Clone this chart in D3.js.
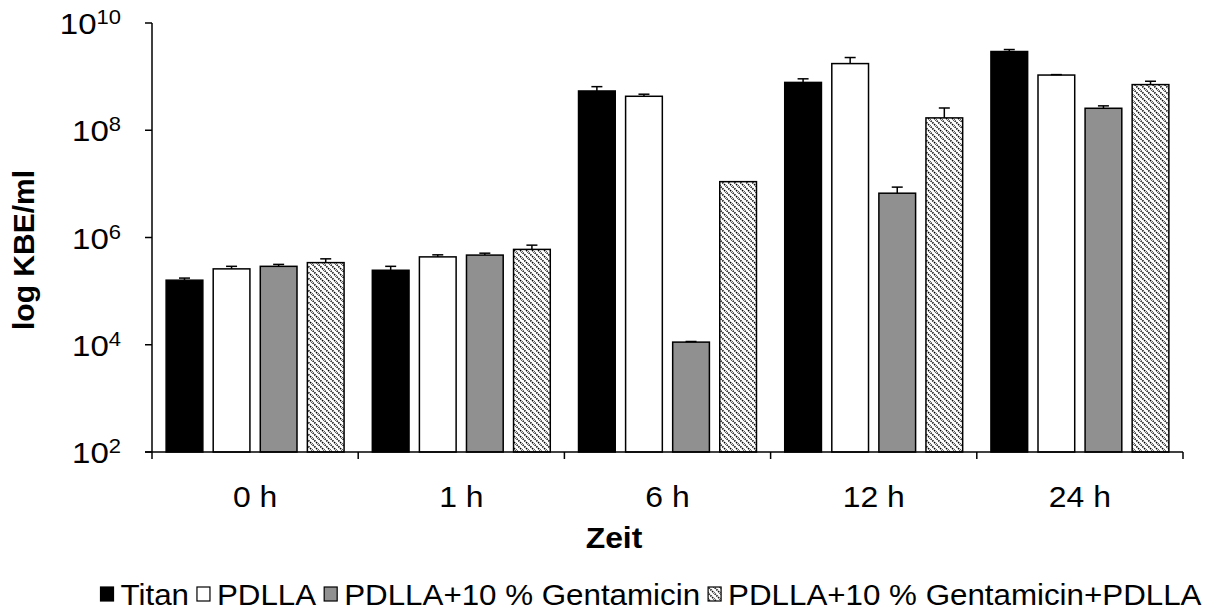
<!DOCTYPE html>
<html>
<head>
<meta charset="utf-8">
<script src="https://cdn.jsdelivr.net/npm/d3@7"></script>
<style>
  body { margin: 0; background: #fff; }
  text { font-family: "Liberation Sans", Arial, sans-serif; fill: #000; }
</style>
</head>
<body>
<div id="chart"></div>
<script>
const categories = ["0 h", "1 h", "6 h", "12 h", "24 h"];
const seriesNames = ["Titan", "PDLLA", "PDLLA+10 % Gentamicin", "PDLLA+10 % Gentamicin+PDLLA"];

// KBE/ml
const titan = [1.6e5, 2.45e5, 5.4e8, 7.8e8, 2.94e9];
const pdlla = [2.6e5, 4.35e5, 4.3e8, 1.75e9, 1.07e9];
const genta = [2.9e5, 4.7e5, 1.12e4, 6.7e6, 2.57e8];
const gentaPdlla = [3.4e5, 6.0e5, 1.1e7, 1.7e8, 7.1e8];

// upper error (SD)
const titanErr = [1.5e4, 4.5e4, 1.1e8, 1.3e8, 2.6e8];
const pdllaErr = [3e4, 4e4, 4e7, 5.2e8, 2e7];
const gentaErr = [2.5e4, 4e4, 3e2, 2e6, 2.8e7];
const gentaPdllaErr = [6e4, 1.2e5, 0, 9e7, 1.1e8];

const yTicks = [1e2, 1e4, 1e6, 1e8, 1e10];

const values = [titan, pdlla, genta, gentaPdlla];
const errors = [titanErr, pdllaErr, gentaErr, gentaPdllaErr];
const fills = ["#000000", "#ffffff", "#909090", "url(#hatch)"];

const W = 1216, H = 612;
const plotLeft = 152, plotRight = 1183, plotTop = 23, plotBottom = 452;
const stretch = 1.1; // text in the source is a bit wider than tall

const svg = d3.select("#chart").append("svg")
  .attr("width", W)
  .attr("height", H);

const defs = svg.append("defs");
const pat = defs.append("pattern")
  .attr("id", "hatch")
  .attr("patternUnits", "userSpaceOnUse")
  .attr("width", 6)
  .attr("height", 6);
pat.append("rect").attr("width", 6).attr("height", 6).attr("fill", "#fff");
pat.append("path")
  .attr("d", "M-1,-1 L7,7 M-4,2 L1,7 M2,-4 L7,1")
  .attr("stroke", "#000")
  .attr("stroke-width", 1.6)
  .attr("stroke-dasharray", "1.4 1");

const x0 = d3.scaleBand()
  .domain(categories)
  .range([plotLeft, plotRight])
  .paddingInner(0)
  .paddingOuter(0);

const x1 = d3.scaleBand()
  .domain(seriesNames)
  .range([0, x0.bandwidth()])
  .paddingInner(0.22)
  .paddingOuter(0.3);

const y = d3.scaleLog()
  .domain([1e2, 1e10])
  .range([plotBottom, plotTop]);

// bars
seriesNames.forEach((s, si) => {
  const g = svg.append("g");
  const rows = categories.map((c, ci) => ({ c, v: values[si][ci], e: errors[si][ci] }));

  g.selectAll("rect")
    .data(rows)
    .enter()
    .append("rect")
    .attr("x", d => x0(d.c) + x1(s))
    .attr("y", d => y(d.v))
    .attr("width", x1.bandwidth())
    .attr("height", d => plotBottom - y(d.v))
    .attr("fill", fills[si])
    .attr("stroke", "#000")
    .attr("stroke-width", 1.5);

  const eb = g.selectAll(".err")
    .data(rows.filter(d => d.e > 0))
    .enter()
    .append("g")
    .attr("class", "err");

  eb.append("line")
    .attr("x1", d => x0(d.c) + x1(s) + x1.bandwidth() / 2)
    .attr("x2", d => x0(d.c) + x1(s) + x1.bandwidth() / 2)
    .attr("y1", d => y(d.v))
    .attr("y2", d => y(d.v + d.e))
    .attr("stroke", "#000")
    .attr("stroke-width", 1.5);

  eb.append("line")
    .attr("x1", d => x0(d.c) + x1(s) + x1.bandwidth() / 2 - 5.5)
    .attr("x2", d => x0(d.c) + x1(s) + x1.bandwidth() / 2 + 5.5)
    .attr("y1", d => y(d.v + d.e))
    .attr("y2", d => y(d.v + d.e))
    .attr("stroke", "#000")
    .attr("stroke-width", 1.5);
});

// y axis
const yAxis = svg.append("g");
yAxis.append("line")
  .attr("x1", plotLeft).attr("x2", plotLeft)
  .attr("y1", plotTop).attr("y2", plotBottom)
  .attr("stroke", "#000").attr("stroke-width", 1.5);

yTicks.forEach(t => {
  yAxis.append("line")
    .attr("x1", plotLeft - 7).attr("x2", plotLeft)
    .attr("y1", y(t)).attr("y2", y(t))
    .attr("stroke", "#000").attr("stroke-width", 1.5);
  const txt = yAxis.append("text")
    .attr("transform", `translate(121,${y(t) + 11}) scale(${stretch},1)`)
    .attr("text-anchor", "end")
    .attr("font-size", "30px");
  txt.append("tspan").text("10");
  txt.append("tspan")
    .attr("font-size", "20px")
    .attr("dy", -10)
    .text(Math.round(Math.log10(t)));
});

// x axis
const xAxis = svg.append("g");
xAxis.append("line")
  .attr("x1", plotLeft - 7).attr("x2", plotRight)
  .attr("y1", plotBottom).attr("y2", plotBottom)
  .attr("stroke", "#000").attr("stroke-width", 1.5);

categories.concat([null]).forEach(c => {
  const xp = c === null ? plotRight : x0(c);
  xAxis.append("line")
    .attr("x1", xp).attr("x2", xp)
    .attr("y1", plotBottom).attr("y2", plotBottom + 7)
    .attr("stroke", "#000").attr("stroke-width", 1.5);
});

xAxis.selectAll(".xl")
  .data(categories)
  .enter()
  .append("text")
  .attr("class", "xl")
  .attr("transform", d => `translate(${x0(d) + x0.bandwidth() / 2},507) scale(${stretch},1)`)
  .attr("text-anchor", "middle")
  .attr("font-size", "29px")
  .text(d => d);

// axis titles
svg.append("text")
  .attr("transform", `translate(614,548) scale(${stretch},1)`)
  .attr("text-anchor", "middle")
  .attr("font-size", "29px")
  .attr("font-weight", "bold")
  .text("Zeit");

svg.append("text")
  .attr("transform", "translate(34,250) rotate(-90)")
  .attr("text-anchor", "middle")
  .attr("font-size", "30px")
  .attr("font-weight", "bold")
  .text("log KBE/ml");

// legend
const legendStretch = 1.08;
const legend = svg.append("g");
let lx = 0;
seriesNames.forEach((s, si) => {
  const item = legend.append("g").attr("transform", `translate(${lx},0)`);
  item.append("rect")
    .attr("x", 0).attr("y", -18)
    .attr("width", 13).attr("height", 14)
    .attr("fill", fills[si])
    .attr("stroke", "#000")
    .attr("stroke-width", 1.2);
  const t = item.append("text")
    .attr("transform", `translate(20,0) scale(${legendStretch},1)`)
    .attr("font-size", "29px")
    .text(s);
  lx += 20 + t.node().getComputedTextLength() * legendStretch + 8;
});
const legendWidth = lx - 8;
legend.attr("transform", `translate(${651 - legendWidth / 2},605)`);
</script>
</body>
</html>
